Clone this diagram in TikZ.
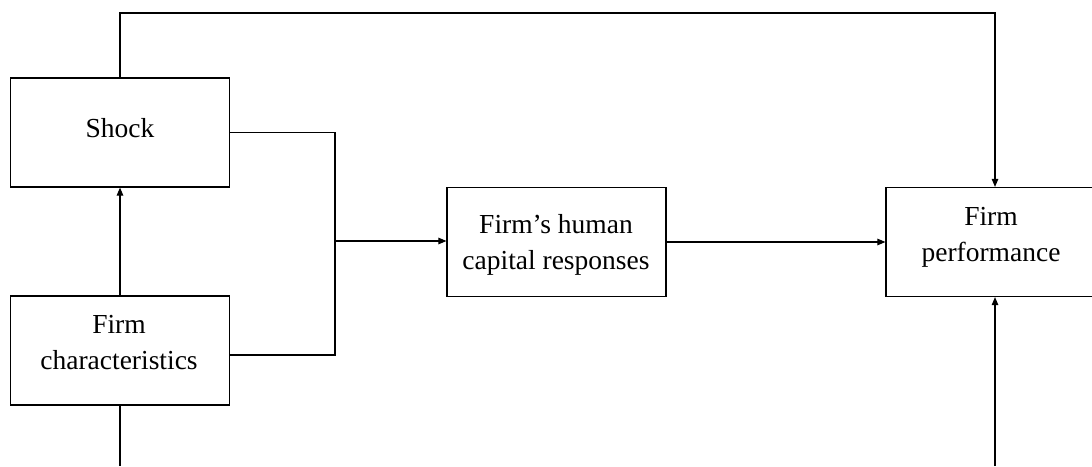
\documentclass[tikz,border=0pt]{standalone}
\usepackage{fontspec}
\setmainfont{Liberation Serif}
\usetikzlibrary{arrows.meta}
\begin{document}
\begin{tikzpicture}[x=1pt,y=1pt,
  box/.style={draw, line width=1.2pt, minimum width=219pt, minimum height=109pt, inner sep=0pt},
  lbl/.style={align=center, font=\fontsize{27.5}{36}\selectfont, inner sep=0pt},
  conn/.style={line width=1.1pt},
  arr/.style={conn, -{Triangle[length=8pt,width=6.5pt]}}]
\clip (0,0) rectangle (1092,466);
\node[box] (shock) at (120,333.5) {};
\node[lbl] (shockt) at (120,338) {Shock};
\node[box] (fc) at (120,115.5) {};
\node[lbl] (fct) at (119,123.5) {Firm\\characteristics};
\node[box] (hrc) at (556.5,224) {};
\node[lbl] (hrct) at (556,221) {Firm's human\\capital responses};
\node[box, minimum width=211pt] (fp) at (991.5,224) {};
\node[lbl] (fpt) at (991,229) {Firm\\performance};
% junction
\coordinate (j) at (335,225);
\draw[conn] (shock.east) -| (j);
\draw[conn] ([yshift=-4.5pt]fc.east) -| (j);
\draw[arr] (j) -- (j -| hrc.west);
\draw[arr] (hrc.east) -- (fp.west);
% top loop
\coordinate (tr) at (995,453);
\draw[arr] (shock.north) |- (tr) -- (tr |- fp.north);
\draw[arr] (fc.north) -- (shock.south);
% bottom lines
\coordinate (fcb) at (120,0);
\draw[conn] (fc.south) -- (fcb);
\coordinate (fpb) at (995,0);
\draw[arr] (fpb) -- (fpb |- fp.south);
\end{tikzpicture}
\end{document}
